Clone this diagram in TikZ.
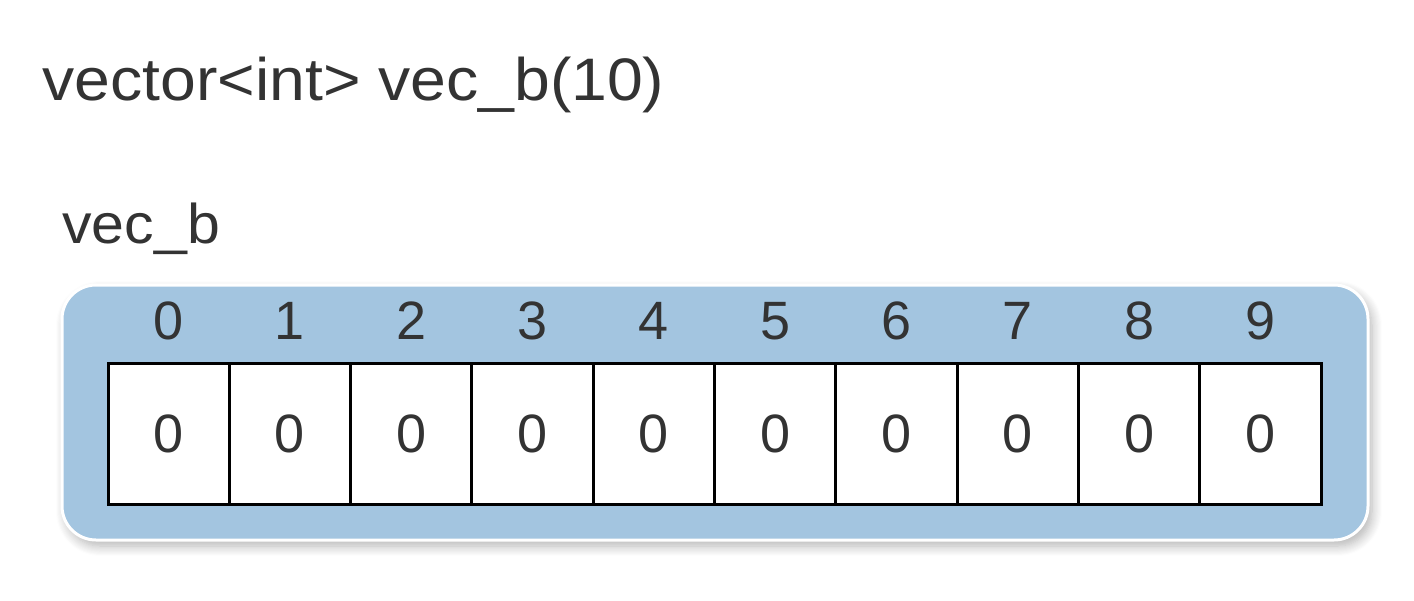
\documentclass[tikz,border=0pt]{standalone}
\usepackage{fontspec}
\setmainfont{Liberation Sans}
\newfontfamily\titlefont[FakeStretch=1.072]{Liberation Sans}
\newfontfamily\namefont[FakeStretch=1.054]{Liberation Sans}
\usetikzlibrary{shadows.blur}
\definecolor{txt}{HTML}{333333}
\definecolor{panelblue}{HTML}{A3C5E0}
\tikzset{
  celltxt/.style={font=\fontsize{27pt}{30pt}\selectfont, text=txt},
  cellbox/.style={draw=black, line width=1.5pt, fill=white, minimum width=60.65pt, minimum height=70.5pt, inner sep=0pt, celltxt},
  idxtxt/.style={celltxt, inner sep=0pt},
  panel/.style={draw=white, line width=1.5pt, fill=panelblue, rounded corners=17pt, blur shadow={shadow xshift=2pt, shadow yshift=-3pt, shadow blur radius=5pt, shadow blur steps=10, shadow opacity=30}}
}
\begin{document}
\begin{tikzpicture}[x=0.5pt, y=-0.5pt]
\useasboundingbox (0,0) rectangle (1414,600);
\node[anchor=base west, inner sep=0pt, text=txt, font=\titlefont\fontsize{30pt}{34pt}\selectfont] (title) at (42,100) {vector<int> vec\_b(10)};
\node[anchor=base west, inner sep=0pt, text=txt, font=\namefont\fontsize{28pt}{32pt}\selectfont] (name) at (62,243) {vec\_b};
\node[panel, minimum width=653pt, minimum height=127.5pt, inner sep=0pt] (panel) at (715,412.5) {};
\foreach \i in {0,...,9} {
  \node[cellbox] (c\i) at ({108+121.3*(\i+0.5)},433.5) {0};
  \node[idxtxt] (i\i) at ({108+121.3*(\i+0.5)},321) {\i};
}
\end{tikzpicture}
\end{document}
